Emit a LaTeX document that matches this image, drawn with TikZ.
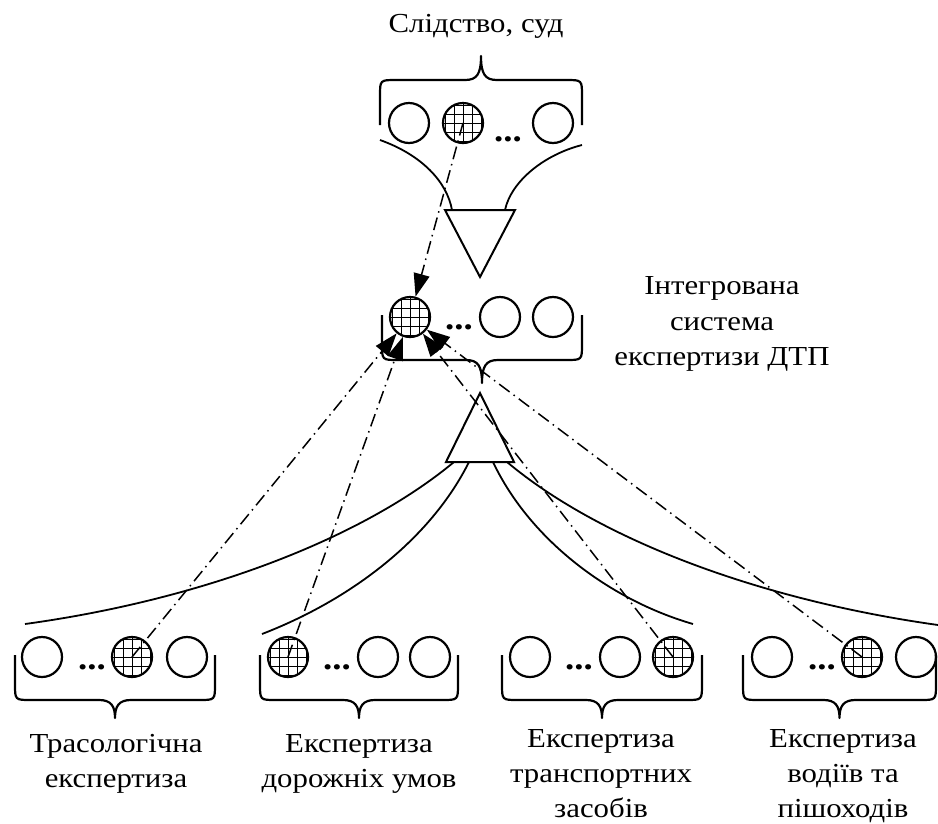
\documentclass[tikz,border=0pt]{standalone}
\usepackage{fontspec}
\setmainfont{Liberation Serif}[FakeStretch=1.12]
\usetikzlibrary{arrows.meta}
\newcommand\mybrace[6]{% xl, xr, yend, ymid, sign(+1 tip down), tip offset
  \draw[bracestyle] ({#1},{#3}) -- ({#1},{#4-16*#5}) .. controls ({#1},{#4}) .. ({#1+16},{#4})
    -- ({(#1+#2)/2-16},{#4}) .. controls ({(#1+#2)/2-4},{#4}) and ({(#1+#2)/2},{#4+6*#5}) .. ({(#1+#2)/2},{#4+#6*#5})
    .. controls ({(#1+#2)/2},{#4+6*#5}) and ({(#1+#2)/2+4},{#4}) .. ({(#1+#2)/2+16},{#4})
    -- ({#2-16},{#4}) .. controls ({#2},{#4}) .. ({#2},{#4-16*#5}) -- ({#2},{#3});}
\begin{document}
\begin{tikzpicture}[x=1pt,y=-1pt,
  ring/.style={circle, draw, line width=2.2pt, minimum size=40pt, inner sep=0pt},
  hatched/.style={ring, path picture={\draw[line width=1pt,step=9pt]
     ([xshift=-30pt,yshift=-30pt]path picture bounding box.center) grid
     ([xshift=30pt,yshift=30pt]path picture bounding box.center);}},
  dotsnode/.style={anchor=base, inner sep=0pt, font=\fontsize{33}{35}\selectfont\bfseries},
  lbl/.style={align=center, inner sep=0pt, font=\fontsize{27.5}{35}\selectfont},
  bracestyle/.style={line width=2.2pt, line join=round},
  tri/.style={line width=2pt, line join=miter},
  curve/.style={line width=1.8pt},
  dd/.style={line width=1.5pt, dash pattern=on 13pt off 5pt on 1.5pt off 5pt,
     -{Triangle[length=23pt,width=16pt]}}]
\useasboundingbox (0,0) rectangle (938,823);

% titles
\node[lbl, anchor=base] (title) at (476,32) {Слідство, суд};
\node[lbl, anchor=base] (isys1) at (722,294) {Інтегрована};
\node[lbl, anchor=base] (isys2) at (722,330) {система};
\node[lbl, anchor=base] (isys3) at (722,365) {експертизи ДТП};

% top group
\node[ring] (t1) at (409,123) {};
\node[hatched] (th) at (463,123) {};
\node[ring] (t3) at (553,123) {};
\node[dotsnode] (tdots) at (508,141) {...};
\mybrace{380}{582}{125}{80}{-1}{24}

% top triangle and curves
\draw[tri] (445,210) coordinate (ttl) -- (515,210) coordinate (ttr) -- (480,277) coordinate (ttb) -- cycle;
\coordinate (tcl) at (380,140);
\coordinate (tcr) at (582,145);
\coordinate (ttl2) at (452,210);
\coordinate (ttr2) at (505,210);
\draw[curve] (tcl) .. controls (422,155) and (447,182) .. (ttl2);
\draw[curve] (tcr) .. controls (543,155) and (511,182) .. (ttr2);

% middle group
\node[hatched] (mh) at (410,317) {};
\node[ring] (m2) at (500,317) {};
\node[ring] (m3) at (553,317) {};
\node[dotsnode] (mdots) at (459,329) {...};
\mybrace{382}{582}{315}{360}{1}{23}

% lower triangle
\draw[tri] (480,393) coordinate (lt) -- (446,462) coordinate (ll) -- (514,462) coordinate (lr) -- cycle;
\coordinate (b1) at (454,462);
\coordinate (b2) at (469,462);
\coordinate (b3) at (493,462);
\coordinate (b4) at (507,462);
\coordinate (e1) at (25,624);
\coordinate (e2) at (262,634);
\coordinate (e3) at (693,624);
\coordinate (e4) at (938,625);
\draw[curve] (b1) .. controls (360,540) and (200,600) .. (e1);
\draw[curve] (b2) .. controls (430,540) and (350,600) .. (e2);
\draw[curve] (b3) .. controls (530,540) and (610,600) .. (e3);
\draw[curve] (b4) .. controls (600,540) and (760,600) .. (e4);

% bottom groups
\node[ring] (a1) at (42,657) {};
\node[hatched] (ah) at (132,657) {};
\node[ring] (a3) at (187,657) {};
\node[dotsnode] (adots) at (92,669) {...};
\mybrace{15}{215}{655}{700}{1}{18}

\node[hatched] (bh) at (288,657) {};
\node[ring] (b2c) at (378,657) {};
\node[ring] (b3c) at (430,657) {};
\node[dotsnode] (bdots) at (337,669) {...};
\mybrace{260}{458}{655}{700}{1}{18}

\node[ring] (c1) at (530,657) {};
\node[ring] (c2) at (620,657) {};
\node[hatched] (ch) at (673,657) {};
\node[dotsnode] (cdots) at (579,669) {...};
\mybrace{502}{702}{655}{700}{1}{18}

\node[ring] (d1) at (772,657) {};
\node[hatched] (dh) at (862,657) {};
\node[ring] (d3) at (916,657) {};
\node[dotsnode] (ddots) at (822,669) {...};
\mybrace{743}{936}{655}{700}{1}{18}

% labels
\node[lbl, anchor=base] (la1) at (116,752) {Трасологічна};
\node[lbl, anchor=base] (la2) at (116,787) {експертиза};
\node[lbl, anchor=base] (lb1) at (359,752) {Експертиза};
\node[lbl, anchor=base] (lb2) at (359,787) {дорожніх умов};
\node[lbl, anchor=base] (lc1) at (601,747) {Експертиза};
\node[lbl, anchor=base] (lc2) at (601,782) {транспортних};
\node[lbl, anchor=base] (lc3) at (601,817) {засобів};
\node[lbl, anchor=base] (ld1) at (843,747) {Експертиза};
\node[lbl, anchor=base] (ld2) at (843,782) {водіїв та};
\node[lbl, anchor=base] (ld3) at (843,817) {пішоходів};

% dash-dot arrows
\draw[dd] (th.center) -- (mh);
\draw[dd] (ah.center) -- (mh);
\draw[dd] (bh.center) -- (mh);
\draw[dd] (ch.center) -- (mh);
\draw[dd] (dh.center) -- (mh);
\end{tikzpicture}
\end{document}
